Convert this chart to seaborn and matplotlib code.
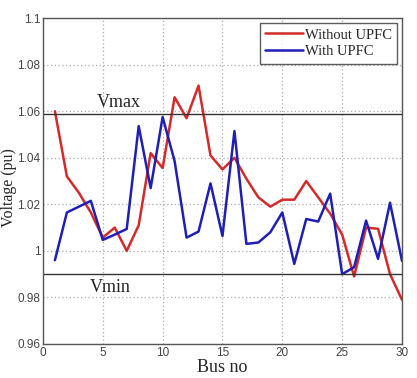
import numpy as np
import pandas as pd
import matplotlib
matplotlib.use("Agg")
import matplotlib.pyplot as plt
import seaborn as sns

# ---- data ----
bus = list(range(1, 31))
without_upfc = [1.060, 1.032, 1.025, 1.0165, 1.0057, 1.010, 1.000, 1.011, 1.042, 1.0356,
                1.066, 1.057, 1.071, 1.041, 1.035, 1.040, 1.031, 1.023, 1.019, 1.022,
                1.022, 1.030, 1.023, 1.016, 1.007, 0.989, 1.010, 1.0095, 0.990, 0.979]
with_upfc = [0.996, 1.0165, 1.019, 1.0215, 1.0047, 1.007, 1.0094, 1.0536, 1.027, 1.0575,
             1.0386, 1.0057, 1.0083, 1.029, 1.0064, 1.0515, 1.003, 1.0036, 1.008, 1.0165,
             0.9944, 1.0137, 1.0126, 1.0246, 0.990, 0.993, 1.013, 0.9966, 1.0207, 0.9957]
vmax = 1.0588
vmin = 0.990
xticks = [0, 5, 10, 15, 20, 25, 30]
yticks = [0.96, 0.98, 1.0, 1.02, 1.04, 1.06, 1.08, 1.1]
ytick_labels = ["0.96", "0.98", "1", "1.02", "1.04", "1.06", "1.08", "1.1"]

df = pd.DataFrame({"bus": bus * 2,
                   "v": without_upfc + with_upfc,
                   "case": ["Without UPFC"] * 30 + ["With UPFC"] * 30})

sns.set_style("white")
plt.rcParams['font.family'] = ['Liberation Serif', 'DejaVu Serif']

fig = plt.figure(figsize=(4.17, 3.78), dpi=100)
ax = fig.add_axes([0.103, 0.09, 0.861, 0.862])

sns.lineplot(data=df, x="bus", y="v", hue="case",
             palette={"Without UPFC": "#d42a2a", "With UPFC": "#1f1fb4"},
             linewidth=1.8, ax=ax, legend=True)

ax.axhline(vmax, color="#333333", lw=1.0)
ax.axhline(vmin, color="#333333", lw=1.0)
ax.text(4.5, vmax + 0.0012, "Vmax", fontsize=13, color="#222222", va="bottom")
ax.text(3.9, vmin - 0.0022, "Vmin", fontsize=13, color="#222222", va="top")

ax.set_xlim(0, 30)
ax.set_ylim(0.96, 1.1)
ax.set_xticks(xticks)
ax.set_yticks(yticks)
ax.set_yticklabels(ytick_labels)
for lab in ax.get_xticklabels() + ax.get_yticklabels():
    lab.set_family("Liberation Sans")
    lab.set_fontsize(8.5)
    lab.set_color("#444444")
ax.tick_params(direction="in", length=3, color="#555555", pad=2)
ax.grid(True, linestyle=(0, (1, 2)), color="#aaaaaa", linewidth=0.9)
for s in ax.spines.values():
    s.set_color("#555555")
    s.set_linewidth(1.0)

ax.set_xlabel("Bus no", fontsize=13, labelpad=0)
ax.set_ylabel("Voltage (pu)", fontsize=11.5)
ax.yaxis.set_label_coords(-0.072, 0.48)

leg = ax.legend(loc="upper right", fontsize=10.5, frameon=True, fancybox=False,
                handlelength=2.6, handletextpad=0.1, borderpad=0.35,
                labelspacing=0.25, borderaxespad=0.35)
leg.get_frame().set_edgecolor("#333333")
leg.get_frame().set_linewidth(1.0)
leg.set_title(None)

fig.savefig("out.png", dpi=100)
